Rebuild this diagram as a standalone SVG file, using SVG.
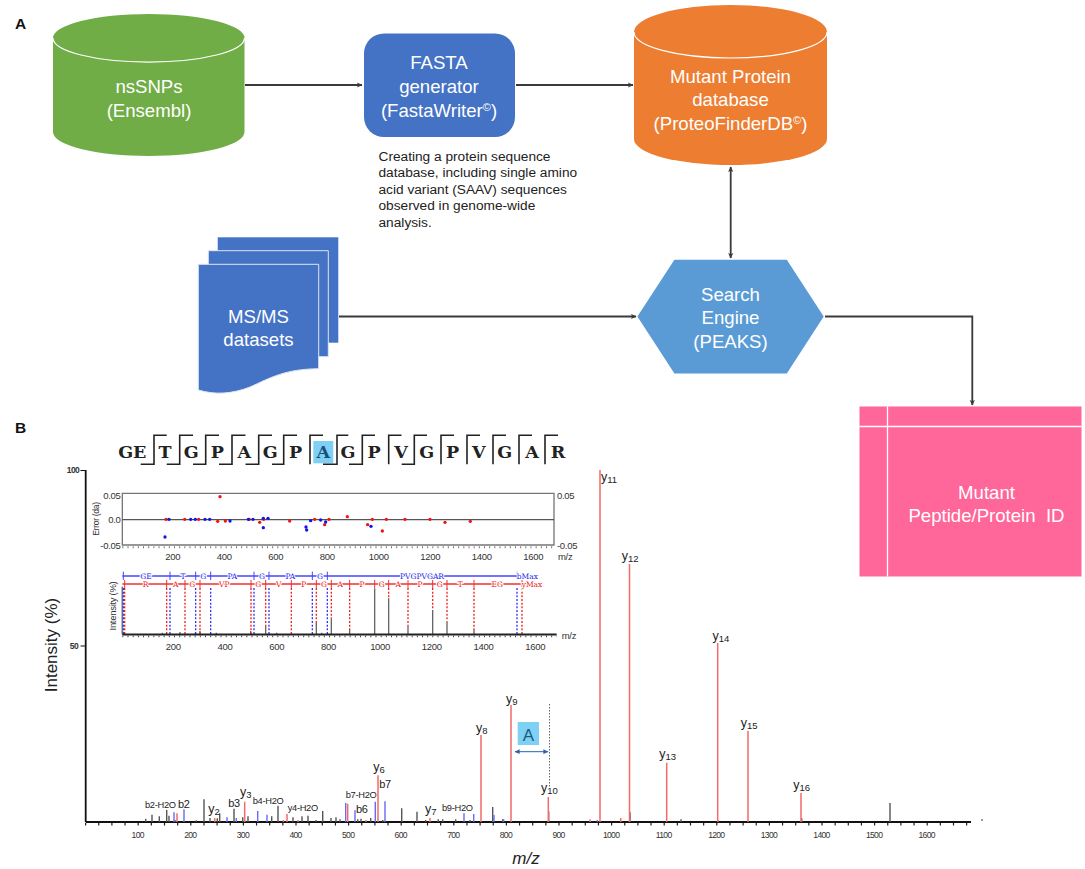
<svg xmlns="http://www.w3.org/2000/svg" width="1085" height="869" viewBox="0 0 1085 869">
<style>
text{font-family:"Liberation Sans",Arial,sans-serif}
.w{fill:#fff;font-size:18.6px;text-anchor:middle}
.panel{font-size:15.5px;font-weight:bold;fill:#111}
.desc{font-size:13.7px;fill:#222}
.conn{fill:none;stroke:#3a3a3a;stroke-width:1.8}
.seq text{font-family:"DejaVu Serif",serif;font-weight:bold;font-size:17.5px;text-anchor:middle;fill:#222}
.seq .hl{fill:#1a4f78}
.br{fill:none;stroke:#222;stroke-width:1.6}
.ax{font-size:8.6px;fill:#333;text-anchor:middle;letter-spacing:-.7px}
.in{font-size:9.500px;fill:#333;letter-spacing:-.3px}
.inm{text-anchor:middle}
.pl{font-size:12.500px;fill:#222}
.pl tspan{font-size:9.5px}
.ph{font-size:9.300px;fill:#222;letter-spacing:-.3px}
.pb{font-size:11px;fill:#222;letter-spacing:-.3px}
.bl,.rl{font-family:"DejaVu Serif",serif;font-size:7.500px;text-anchor:middle;stroke:#fff;stroke-width:2px;paint-order:stroke}
.bl{fill:#2222ee}.rl{fill:#ee1111}
</style>
<defs>
<marker id="ah" markerWidth="6" markerHeight="6" refX="5" refY="3" orient="auto-start-reverse" markerUnits="userSpaceOnUse"><path d="M0 .4L5.4 3L0 5.6L1.2 3Z" fill="#3a3a3a"/></marker>
<marker id="bh" markerWidth="6" markerHeight="6" refX="4.6" refY="3" orient="auto-start-reverse" markerUnits="userSpaceOnUse"><path d="M0 .6L5 3L0 5.4Z" fill="#2f5fb0"/></marker>
</defs>

<text class="panel" x="15" y="29">A</text>
<text class="panel" x="15" y="433">B</text>

<g id="connectors">
<path class="conn" d="M245 85H362" marker-end="url(#ah)"/>
<path class="conn" d="M516 85H633" marker-end="url(#ah)"/>
<path class="conn" d="M730.7 167V258" marker-start="url(#ah)" marker-end="url(#ah)"/>
<path class="conn" d="M339 316.5H636" marker-end="url(#ah)"/>
<path class="conn" d="M825 316.5H972.3V405" marker-end="url(#ah)"/>
</g>

<g id="node-nssnps">
<path d="M53 38A95.500 24 0 0 1 244.500 38V132A95.500 24 0 0 1 53 132Z" fill="#70ad47"/>
<path d="M53 38A95.500 24 0 0 0 244.500 38" fill="none" stroke="#fff" stroke-width="1.200"/>
<text class="w" x="149" y="92.700">nsSNPs</text>
<text class="w" x="149" y="116.700">(Ensembl)</text>
</g>

<g id="node-fasta">
<rect x="364" y="33.500" width="151" height="103.500" rx="20" fill="#4472c4"/>
<text class="w" x="439" y="69">FASTA</text>
<text class="w" x="439" y="92.700">generator</text>
<text class="w" x="439" y="116.700">(FastaWriter<tspan font-size="11" dy="-6">©</tspan><tspan dy="6">)</tspan></text>
</g>

<g id="note-fasta">
<text class="desc" x="378.500" y="160.700">Creating a protein sequence</text>
<text class="desc" x="378.500" y="177.200">database, including single amino</text>
<text class="desc" x="378.500" y="193.700">acid variant (SAAV) sequences</text>
<text class="desc" x="378.500" y="210.300">observed in genome-wide</text>
<text class="desc" x="378.500" y="226.700">analysis.</text>
</g>

<g id="node-mutant-db">
<path d="M634 32A96.500 27 0 0 1 827 32V139A96.500 26 0 0 1 634 139Z" fill="#ed7d31"/>
<path d="M634 32A96.500 26 0 0 0 827 32" fill="none" stroke="#fff" stroke-width="1.200"/>
<text class="w" x="730.500" y="82.800">Mutant Protein</text>
<text class="w" x="730.500" y="106.300">database</text>
<text class="w" x="730.500" y="130">(ProteoFinderDB<tspan font-size="11" dy="-6">©</tspan><tspan dy="6">)</tspan></text>
</g>

<g id="node-msms">
<rect x="217.700" y="237.300" width="120.600" height="105.400" fill="#4472c4"/>
<path d="M208.300 250.700H328.300V356.700H208.300Z" fill="#4472c4" stroke="#dfe6f3" stroke-width="1"/>
<path d="M198.300 264.300H318.700V368.700C285 369 270 378 250 387C232 394 215 395 198.300 390Z" fill="#4472c4" stroke="#dfe6f3" stroke-width="1"/>
<text class="w" x="258.500" y="322.700">MS/MS</text>
<text class="w" x="258.500" y="345.700">datasets</text>
</g>

<g id="node-search">
<path d="M637.400 316.500L674.400 259.700H786.800L823.700 316.500L786.800 373.400H674.400Z" fill="#5b9bd5"/>
<text class="w" x="730.500" y="301">Search</text>
<text class="w" x="730.500" y="324.400">Engine</text>
<text class="w" x="730.500" y="348">(PEAKS)</text>
</g>

<g id="node-result">
<rect x="859.500" y="406.500" width="222" height="170" fill="#ff6699"/>
<path d="M887.500 406.500V576.500M859.500 426.500H1081.500" stroke="#fff" stroke-width="1.300"/>
<text class="w" x="986.500" y="498.700">Mutant</text>
<text class="w" x="986.500" y="522">Peptide/Protein&#160; ID</text>
</g>

<g id="sequence">
<rect x="313.300" y="441" width="20" height="22.300" fill="#7fd0f5"/>
<g class="seq">
<text x="132.300" y="458">GE</text><text x="165" y="458">T</text><text x="191.300" y="458">G</text><text x="217.300" y="458">P</text><text x="244.300" y="458">A</text><text x="270.300" y="458">G</text><text x="295.700" y="458">P</text><text class="hl" x="323.300" y="458">A</text><text x="348" y="458">G</text><text x="374" y="458">P</text><text x="401" y="458">V</text><text x="426.700" y="458">G</text><text x="452.700" y="458">P</text><text x="478.700" y="458">V</text><text x="504.700" y="458">G</text><text x="532" y="458">A</text><text x="558" y="458">R</text>
</g>
<path class="br" d="M140.700 464.300H154V435.300H166.700M166.700 464.300H179.700V435.300H193M193 464.300H205.700V435.300H219M219 464.300H232V435.300H245.500M245.500 464.300H258.700V435.300H272M272 464.300H283.700V435.300H297M310 464.300V435.300H323M323 464.300H337V435.300H348.300M349 464.300H362.300V435.300H375M388.700 464.300V435.300H401.500M401.700 464.300H414.300V435.300H427M441 464.300V435.300H454M467 464.300V435.300H480M493 464.300V435.300H506M519 464.300V435.300H532M545 464.300V435.300H558"/>
</g>

<g id="spectrum">
<path d="M85.700 470V822M85.700 822H971" stroke="#111" stroke-width="1.800" fill="none"/>
<path d="M85 824.200H971" stroke="#222" stroke-width="2.500" stroke-dasharray="1.200 11.950" fill="none"/>
<path d="M80.500 470.500H86M80.500 646H86" stroke="#111" stroke-width="1.200"/>
<circle cx="982" cy="820" r=".8" fill="#222"/>
<path fill="none" stroke="#555" stroke-width="1.400" d="M145.700 822V818.700M152 822V814.700M159.300 822V816.300M166.700 822V810M169 822V815.700M175 822V820M196.300 822V820.300M204 822V799.300M210 822V818M217.300 822V818.300M219.700 822V813.300M234 822V808.700M242.700 822V817.300M248 822V816.300M271.700 822V816.300M278 822V805.700M293 822V817.300M302 822V816.300M308 822V815.700M316 822V820M322.700 822V811M331 822V818M336 822V817.300M340 822V819.300M357.700 822V819.300M361 822V818.700M370.700 822V818M382.700 822V820M401.700 822V808.300M417 822V811.700M425.700 822V820M438.300 822V819.300M442.700 822V819.300M455.700 822V819.300M470 822V820M492.700 822V807M502.700 822V819.300M548.700 822V811.300M630 822V812.300M681 822V819.300M717.700 822V820M801.700 822V818.300M890 822V803"/>
<path fill="none" stroke="#6a6af5" stroke-width="1.400" d="M174 822V812.300M184 822V809.300M227 822V817.300M236.300 822V818M257.700 822V811M267 822V814.700M345.700 822V803M355 822V810.300M375.300 822V801.700M385 822V801.300M464 822V813.300M473.700 822V814M494 822V815M503.700 822V819.300M597.300 822V820"/>
<path fill="none" stroke="#f56a6a" stroke-width="1.500" d="M177 822V813.300M214.700 822V818M244.700 822V801.700M283.300 822V820M287 822V814M298 822V820M347.700 822V803.700M366 822V820M378 822V775.300M430 822V818M481 822V735M511 822V705M548.300 822V797M590 822V819.300M600 822V470M620.700 822V818M629.500 822V564M666.700 822V762.700M717.700 822V643M748 822V731M801 822V793"/>
<path d="M549.500 704V788" stroke="#666" stroke-width="1" stroke-dasharray="1.500 1.500"/>
<rect x="517.700" y="722" width="21.300" height="23" fill="#7fd0f5"/>
<text x="528.500" y="741" font-size="17" fill="#1a5a80" text-anchor="middle">A</text>
<path d="M515 751.700H548" stroke="#2f5fb0" stroke-width="1" marker-start="url(#bh)" marker-end="url(#bh)"/>

<text class="ph" x="145" y="808">b2-H2O</text>
<text class="pb" x="178" y="807.700">b2</text>
<text class="pl" x="208.300" y="813">y<tspan dy="2">2</tspan></text>
<text class="pb" x="228.300" y="806.700">b3</text>
<text class="pl" x="240" y="795.500">y<tspan dy="2">3</tspan></text>
<text class="ph" x="252.700" y="804.300">b4-H2O</text>
<text class="ph" x="287.700" y="811">y4-H2O</text>
<text class="ph" x="345.700" y="798.300">b7-H2O</text>
<text class="pb" x="356" y="813">b6</text>
<text class="pl" x="373.300" y="770.500">y<tspan dy="2">6</tspan></text>
<text class="pb" x="379.300" y="788.300">b7</text>
<text class="pl" x="425" y="812.500">y<tspan dy="2">7</tspan></text>
<text class="ph" x="442" y="811.300">b9-H2O</text>
<text class="pl" x="476" y="731.500">y<tspan dy="2">8</tspan></text>
<text class="pl" x="506" y="702.500">y<tspan dy="2">9</tspan></text>
<text class="pl" x="541" y="792">y<tspan dy="2">10</tspan></text>
<text class="pl" x="601" y="480.500">y<tspan dy="2">11</tspan></text>
<text class="pl" x="621.700" y="559.500">y<tspan dy="2">12</tspan></text>
<text class="pl" x="659.300" y="758">y<tspan dy="2">13</tspan></text>
<text class="pl" x="712.500" y="640">y<tspan dy="2">14</tspan></text>
<text class="pl" x="740.700" y="727">y<tspan dy="2">15</tspan></text>
<text class="pl" x="793.300" y="788.700">y<tspan dy="2">16</tspan></text>

<g class="ax">
<text x="137.700" y="838">100</text><text x="190.300" y="838">200</text><text x="242.900" y="838">300</text><text x="295.500" y="838">400</text><text x="348.100" y="838">500</text><text x="400.700" y="838">600</text><text x="453.300" y="838">700</text><text x="505.900" y="838">800</text><text x="558.500" y="838">900</text><text x="611.100" y="838">1000</text><text x="663.700" y="838">1100</text><text x="716.300" y="838">1200</text><text x="768.900" y="838">1300</text><text x="821.500" y="838">1400</text><text x="874.100" y="838">1500</text><text x="926.700" y="838">1600</text>
</g>
<text x="73" y="473" font-size="8.500" font-weight="bold" fill="#333" text-anchor="middle" letter-spacing="-.5">100</text>
<text x="74" y="649" font-size="8.500" font-weight="bold" fill="#333" text-anchor="middle" letter-spacing="-.5">50</text>
<text transform="translate(57 645) rotate(-90)" font-size="17" fill="#222" text-anchor="middle">Intensity (%)</text>
<text x="526" y="864" font-size="17" font-style="italic" fill="#222" text-anchor="middle">m/z</text>
</g>

<g id="error-plot">
<g transform="translate(100 430) scale(.33333)">
<path d="M67 190H1362V345H67Z" fill="none" stroke="#777" stroke-width="4"/>
<path d="M67 269H1362" stroke="#555" stroke-width="4"/>
<path d="M67 352H1362" stroke="#777" stroke-width="6" stroke-dasharray="3 12.500"/>
<g fill="#f01414"><circle cx="198" cy="268" r="5"/><circle cx="254" cy="268" r="5"/><circle cx="296" cy="268" r="5"/><circle cx="353" cy="274" r="5"/><circle cx="360" cy="200" r="5"/><circle cx="376" cy="273" r="5"/><circle cx="448" cy="268" r="5"/><circle cx="479" cy="277" r="5"/><circle cx="491" cy="268" r="5"/><circle cx="569" cy="273" r="5"/><circle cx="644" cy="268" r="5"/><circle cx="674" cy="284" r="5"/><circle cx="687" cy="268" r="5"/><circle cx="742" cy="260" r="5"/><circle cx="803" cy="284" r="5"/><circle cx="817" cy="268" r="5"/><circle cx="847" cy="303" r="5"/><circle cx="859" cy="268" r="5"/><circle cx="915" cy="268" r="5"/><circle cx="990" cy="268" r="5"/><circle cx="1035" cy="277" r="5"/><circle cx="1111" cy="274" r="5"/></g>
<g fill="#1414e0"><circle cx="195" cy="321" r="5"/><circle cx="207" cy="268" r="5"/><circle cx="272" cy="268" r="5"/><circle cx="286" cy="268" r="5"/><circle cx="315" cy="268" r="5"/><circle cx="329" cy="268" r="5"/><circle cx="390" cy="273" r="5"/><circle cx="445" cy="268" r="5"/><circle cx="459" cy="268" r="5"/><circle cx="490" cy="265" r="5"/><circle cx="490" cy="293" r="5"/><circle cx="504" cy="265" r="5"/><circle cx="618" cy="291" r="5"/><circle cx="620" cy="300" r="5"/><circle cx="632" cy="272" r="5"/><circle cx="662" cy="270" r="5"/><circle cx="677" cy="276" r="5"/><circle cx="813" cy="289" r="5"/></g>
</g>
<g class="in">
<text transform="translate(99 519) rotate(-90)" text-anchor="middle" font-size="8.500">Error (da)</text>
<text x="120.500" y="499" text-anchor="end">0.05</text><text x="120.500" y="523" text-anchor="end">0.0</text><text x="120.500" y="549" text-anchor="end">-0.05</text>
<text x="557" y="499">0.05</text><text x="557" y="549">-0.05</text>
<text class="inm" x="172.700" y="560">200</text><text class="inm" x="224.200" y="560">400</text><text class="inm" x="275.700" y="560">600</text><text class="inm" x="327.200" y="560">800</text><text class="inm" x="378.700" y="560">1000</text><text class="inm" x="430.200" y="560">1200</text><text class="inm" x="481.700" y="560">1400</text><text class="inm" x="533.200" y="560">1600</text>
<text x="558" y="560">m/z</text>
</g>
</g>

<g id="ion-map">
<g transform="translate(100 430) scale(.33333)">
<path d="M67 438H1251" stroke="#4444ff" stroke-width="4"/>
<path d="M67 462H1266" stroke="#f03030" stroke-width="4"/>
<path d="M70 425V450M210 425V450M287 425V450M332 425V450M462 425V450M507 425V450M637 425V450M682 425V450M1251 425V450" stroke="#4444ff" stroke-width="3"/>
<path d="M74 450V474M200 450V474M255 450V474M300 450V474M453 450V474M497 450V474M574 450V474M649 450V474M694 450V474M749 450V474M824 450V474M866 450V474M924 450V474M998 450V474M1041 450V474M1122 450V474M1266 450V474" stroke="#f03030" stroke-width="3"/>
<path d="M67 470V613" stroke="#777" stroke-width="5"/>
<path fill="none" stroke="#666" stroke-width="4" d="M824 613V475M866 613V505M998 613V540M694 613V565M649 613V578M1041 613V575M497 613V590M924 613V588M749 613V600M1122 613V600M452 613V603M187 613V608M240 613V606M286 613V608M300 613V603M349 613V608M530 613V608M665 613V608"/>
<path fill="none" stroke="#3333ff" stroke-width="4" stroke-dasharray="6 5" d="M70 474V613M210 474V613M287 474V613M332 474V613M462 474V613M507 474V613M637 474V613M682 474V613M1251 474V613"/>
<path fill="none" stroke="#f02222" stroke-width="4" stroke-dasharray="6 5" d="M74 474V613M200 474V613M255 474V613M300 474V613M453 474V613M497 474V590M574 474V613M649 474V578M694 474V565M749 474V600M866 474V505M924 474V588M998 474V540M1041 474V575M1122 474V600M1266 474V613"/>
<path d="M67 613.500H1370" stroke="#222" stroke-width="6"/>
<path d="M67 619H1370" stroke="#444" stroke-width="5" stroke-dasharray="3 12.500"/>
</g>
<text class="bl" x="146" y="578.500">GE</text><text class="bl" x="183" y="578.500">T</text><text class="bl" x="203.300" y="578.500">G</text><text class="bl" x="232.300" y="578.500">PA</text><text class="bl" x="262" y="578.500">G</text><text class="bl" x="290.300" y="578.500">PA</text><text class="bl" x="320" y="578.500">G</text><text class="bl" x="422" y="578.500">PVGPVGAR</text><text class="bl" x="527.300" y="578.500">bMax</text>
<text class="rl" x="145.700" y="586.500">R</text><text class="rl" x="175.700" y="586.500">A</text><text class="rl" x="192.300" y="586.500">G</text><text class="rl" x="224.300" y="586.500">VP</text><text class="rl" x="258.300" y="586.500">G</text><text class="rl" x="278.700" y="586.500">V</text><text class="rl" x="303.700" y="586.500">P</text><text class="rl" x="324" y="586.500">G</text><text class="rl" x="340.300" y="586.500">A</text><text class="rl" x="362" y="586.500">P</text><text class="rl" x="381.700" y="586.500">G</text><text class="rl" x="398.300" y="586.500">A</text><text class="rl" x="420" y="586.500">P</text><text class="rl" x="439.700" y="586.500">G</text><text class="rl" x="460.300" y="586.500">T</text><text class="rl" x="497.300" y="586.500">EG</text><text class="rl" x="532" y="586.500">yMax</text>
<g class="in">
<text transform="translate(116 606) rotate(-90)" text-anchor="middle">Intensity (%)</text>
<text class="inm" x="173.300" y="650">200</text><text class="inm" x="225" y="650">400</text><text class="inm" x="276.700" y="650">600</text><text class="inm" x="328.400" y="650">800</text><text class="inm" x="380.100" y="650">1000</text><text class="inm" x="431.800" y="650">1200</text><text class="inm" x="483.500" y="650">1400</text><text class="inm" x="535.200" y="650">1600</text>
<text x="561.700" y="639">m/z</text>
</g>
</g>
</svg>
